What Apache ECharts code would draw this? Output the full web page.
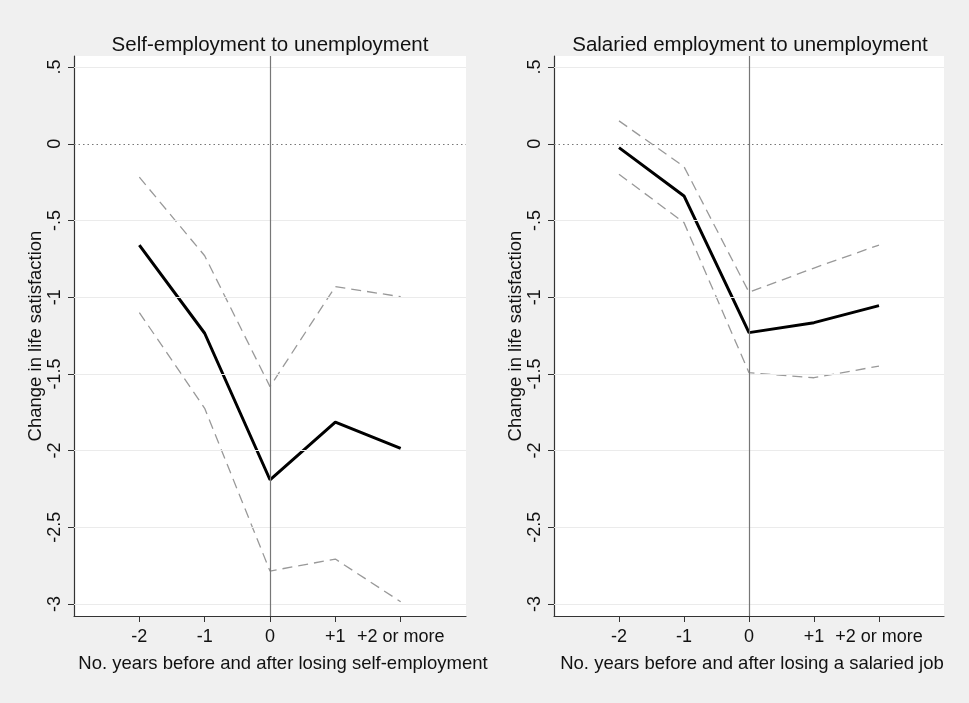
<!DOCTYPE html>
<html>
<head>
<meta charset="utf-8">
<script src="https://cdn.jsdelivr.net/npm/echarts@6/dist/echarts.min.js"></script>
<style>
html,body{margin:0;padding:0;background:#f0f0f0;}
#c{width:969px;height:703px;}
</style>
</head>
<body>
<div id="c"></div>
<script>
// ---- data ----
const xPos = [-2, -1, 0, 1, 2];
const xLabels = ['-2', '-1', '0', '+1', '+2 or more'];
const yTicks = [0.5, 0, -0.5, -1, -1.5, -2, -2.5, -3];
const yTickLabels = ['.5', '0', '-.5', '-1', '-1.5', '-2', '-2.5', '-3'];

const panelTitles = ['Self-employment to unemployment', 'Salaried employment to unemployment'];
const xTitles = ['No. years before and after losing self-employment', 'No. years before and after losing a salaried job'];
const yTitle = 'Change in life satisfaction';

// Self-employment to unemployment
const selfEst   = [-0.66, -1.235, -2.19, -1.815, -1.985];
const selfUpper = [-0.218, -0.73, -1.583, -0.931, -0.997];
const selfLower = [-1.10, -1.724, -2.785, -2.707, -2.985];

// Salaried employment to unemployment
const salEst   = [-0.025, -0.34, -1.231, -1.166, -1.055];
const salUpper = [0.149, -0.149, -0.968, -0.81, -0.66];
const salLower = [-0.199, -0.514, -1.492, -1.525, -1.449];

// ---- chart ----
const font = 'Liberation Sans, Arial, Helvetica, sans-serif';
const chart = echarts.init(document.getElementById('c'), null, {renderer: 'canvas'});

const grids = [
  {left: 74, right: 503, top: 56, bottom: 87},
  {left: 554, right: 25, top: 56, bottom: 87}
];
const centers = [265, 745];
const xNamePad = [26, 6];

function pairs(vals) { return xPos.map((x, i) => [x, vals[i]]); }

const xAxes = [0, 1].map(i => ({
  type: 'value', gridIndex: i, min: -3, max: 3,
  name: xTitles[i], nameLocation: 'middle', nameGap: 38,
  nameTextStyle: {fontFamily: font, fontSize: 18.5, color: '#111', padding: [0, 0, 0, xNamePad[i]]},
  axisLine: {show: true, onZero: false, lineStyle: {color: '#333', width: 1.2}},
  axisTick: {show: true, length: 6, customValues: xPos, lineStyle: {color: '#333'}},
  axisLabel: {customValues: xPos, margin: 12, fontFamily: font, fontSize: 18, color: '#111',
    formatter: v => { const k = xPos.indexOf(v); return k >= 0 ? xLabels[k] : ''; }},
  splitLine: {show: false}
}));

const yAxes = [0, 1].map(i => ({
  type: 'value', gridIndex: i, min: -3.078, max: 0.572,
  name: yTitle, nameLocation: 'middle', nameGap: 27, nameRotate: 90,
  nameTextStyle: {fontFamily: font, fontSize: 18.5, color: '#111'},
  axisLine: {show: true, onZero: false, lineStyle: {color: '#333', width: 1.2}},
  axisTick: {show: true, length: 6, customValues: yTicks, lineStyle: {color: '#333'}},
  axisLabel: {customValues: yTicks, rotate: 90, margin: 10, fontFamily: font, fontSize: 18, color: '#111',
    formatter: v => { const k = yTicks.findIndex(t => Math.abs(t - v) < 1e-9); return k >= 0 ? yTickLabels[k] : ''; }},
  splitLine: {show: false}
}));

const series = [];
const sets = [[selfEst, selfUpper, selfLower], [salEst, salUpper, salLower]];
[0, 1].forEach(i => {
  const mlData = yTicks.map(t => t === 0
    ? {yAxis: t, lineStyle: {color: '#777', width: 1, type: [1.5, 3]}}
    : {yAxis: t, lineStyle: {color: '#ebebeb', width: 1.2, type: 'solid'}});
  mlData.push({xAxis: 0, lineStyle: {color: '#777', width: 1.2, type: 'solid'}});
  series.push({
    type: 'line', xAxisIndex: i, yAxisIndex: i, data: [], z: 1,
    markLine: {silent: true, symbol: 'none', animation: false, label: {show: false}, data: mlData}
  });
  const [est, up, lo] = sets[i];
  [up, lo].forEach(arr => series.push({
    type: 'line', xAxisIndex: i, yAxisIndex: i, data: pairs(arr), z: 3,
    symbol: 'none', animation: false,
    lineStyle: {color: '#999', width: 1.3, type: [10, 6]}
  }));
  series.push({
    type: 'line', xAxisIndex: i, yAxisIndex: i, data: pairs(est), z: 4,
    symbol: 'none', animation: false,
    lineStyle: {color: '#000', width: 3}
  });
});

chart.setOption({
  backgroundColor: '#f0f0f0',
  animation: false,
  title: [0, 1].map(i => ({
    text: panelTitles[i], left: centers[i], top: 30, textAlign: 'center',
    textStyle: {fontFamily: font, fontSize: 20.5, fontWeight: 'normal', color: '#111'}
  })),
  grid: grids.map(g => Object.assign({show: true, backgroundColor: '#fff', borderWidth: 0}, g)),
  xAxis: xAxes,
  yAxis: yAxes,
  series: series
});
</script>
</body>
</html>
